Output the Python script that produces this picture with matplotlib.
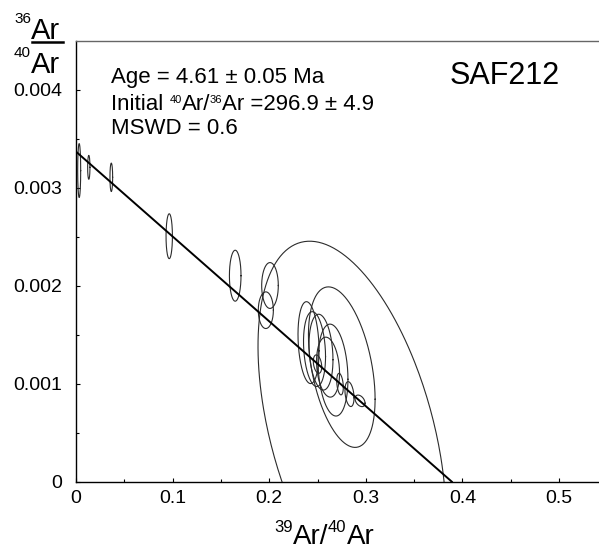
import numpy as np
import matplotlib
matplotlib.use("Agg")
import matplotlib.pyplot as plt
from matplotlib.lines import Line2D

plt.rcParams['font.family'] = ['Liberation Sans', 'DejaVu Sans']
plt.rcParams['mathtext.default'] = 'regular'

W, H = 599, 549

# error ellipses: centre, half-width (x), half-height (y), correlation
ell_x = [0.0033, 0.01325, 0.03654, 0.0965, 0.1648, 0.2008, 0.1965,
         0.2407, 0.2469, 0.2536, 0.2660, 0.2609, 0.2751, 0.2857,
         0.2500, 0.2733, 0.2831, 0.2940]
ell_y = [0.003175, 0.003208, 0.003106, 0.002505, 0.002102, 0.002002, 0.00175,
         0.001419, 0.001353, 0.001322, 0.001139, 0.001169, 0.001169, 0.000507,
         0.0012, 0.000996, 0.000894, 0.000825]
ell_a = [0.00155, 0.0012, 0.0014, 0.0033, 0.006, 0.0086, 0.0078,
         0.0109, 0.0114, 0.0124, 0.0155, 0.0119, 0.0345, 0.0973,
         0.00435, 0.0034, 0.0047, 0.0052]
ell_b = [0.000275, 0.000122, 0.000145, 0.000229, 0.00026, 0.000234, 0.000187,
         0.000418, 0.000382, 0.000387, 0.000469, 0.000306, 0.000819, 0.001947,
         0.000094, 0.00011, 0.000127, 0.000059]
ell_r = [0.0, 0.0, 0.0, 0.0, 0.0, 0.0, 0.0,
         -0.2, -0.2, -0.2, -0.2, -0.2, -0.4, -0.45,
         -0.3, -0.3, -0.3, -0.4]

# isochron line
y_intercept = 1 / 296.9
x_intercept = 0.389

xticks = [0, 0.1, 0.2, 0.3, 0.4, 0.5]
xticklabels = ["0", "0.1", "0.2", "0.3", "0.4", "0.5"]
yticks = [0, 0.001, 0.002, 0.003, 0.004]
yticklabels = ["0", "0.001", "0.002", "0.003", "0.004"]

fig = plt.figure(figsize=(W / 100, H / 100), dpi=100)
ax = fig.add_axes([76 / W, 67.3 / H, 541 / W, 441 / H])

t = np.linspace(0, 2 * np.pi, 300)
for cx, cy, a, b, r in zip(ell_x, ell_y, ell_a, ell_b, ell_r):
    ex = cx + a * np.cos(t)
    ey = cy + b * (r * np.cos(t) + np.sqrt(1 - r * r) * np.sin(t))
    ax.plot(ex, ey, color='#2b2b2b', lw=0.8)

ax.plot([0, x_intercept], [y_intercept, 0], color='black', lw=1.4)

ax.set_xlim(0, 0.56)
ax.set_ylim(0, 0.0045)
ax.set_xticks(xticks)
ax.set_xticklabels(xticklabels)
ax.set_yticks(yticks)
ax.set_yticklabels(yticklabels)
ax.set_xticks(np.arange(0.05, 0.56, 0.1), minor=True)
ax.set_yticks(np.arange(0.0005, 0.0045, 0.001), minor=True)
ax.tick_params(which='both', direction='in', width=0.8, colors='black',
               labelsize=14)
ax.tick_params(which='major', length=3)
ax.tick_params(which='minor', length=2.3)
ax.tick_params(axis='y', pad=10)
ax.tick_params(axis='x', pad=6)
ax.spines['right'].set_visible(False)
ax.spines['top'].set_color('#666666')
for s in ['left', 'bottom', 'top']:
    ax.spines[s].set_linewidth(1.0)


def chain(parts, x, y):
    # parts: (text, size, raise in px); x, y in pixels from top-left (baseline)
    prev = fig.text(x / W, 1 - (y - parts[0][2]) / H, parts[0][0],
                    fontsize=parts[0][1], va='baseline', ha='left')
    for txt, size, up in parts[1:]:
        prev = ax.annotate(
            txt, xy=(1, 1 - (y - up) / H), xycoords=(prev, 'figure fraction'),
            fontsize=size, va='baseline', ha='left', annotation_clip=False)
    return prev


chain([("Age = 4.61 \u00b1 0.05 Ma", 16, 0)], 111, 83)
chain([("Initial ", 16, 0), ("40", 8, 7), ("Ar/", 16, 0), ("36", 8, 7),
       ("Ar =296.9 \u00b1 4.9", 16, 0)], 111, 110)
chain([("MSWD = 0.6", 16, 0)], 111, 134)
fig.text(450 / W, 1 - 84 / H, "SAF212", fontsize=22, va='baseline', ha='left')

# y-axis label as a ratio
chain([("36", 11, 16), ("Ar", 21, 0)], 14, 39)
chain([("40", 11, 16), ("Ar", 21, 0)], 14, 73)
fig.add_artist(Line2D([32 / W, 63 / W], [1 - 41.8 / H, 1 - 41.8 / H],
                      color='black', lw=1.8))

# x-axis label
chain([("39", 12, 12), ("Ar/", 20, 0), ("40", 12, 12), ("Ar", 20, 0)], 274, 544)

fig.savefig("out.png", dpi=100)
